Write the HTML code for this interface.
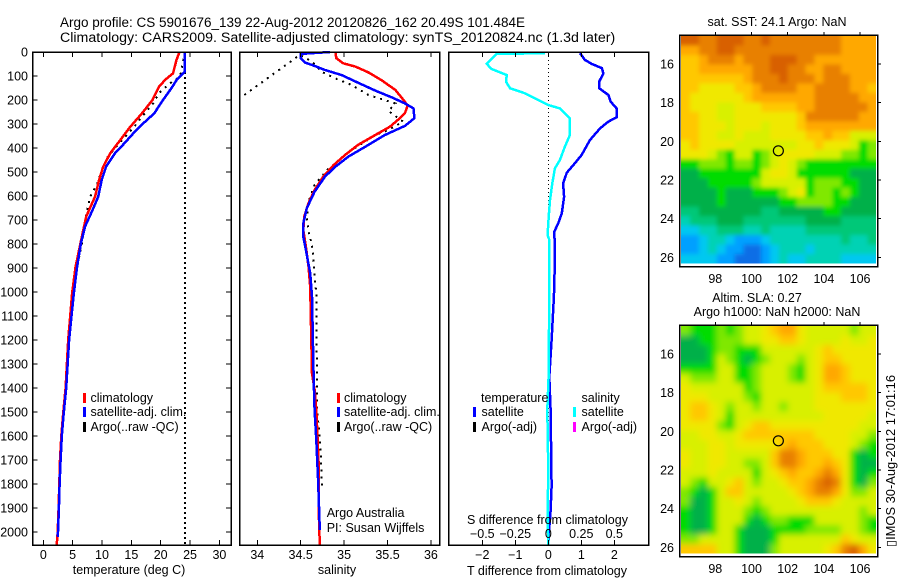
<!DOCTYPE html>
<html lang="en">
<head>
<meta charset="utf-8">
<title>Argo profile</title>
<style>
html,body{margin:0;padding:0;background:#fff;}
#chart{display:block;width:900px;height:580px;font-family:"Liberation Sans",Arial,sans-serif;font-size:12.5px;fill:#000;}
text{font-family:"Liberation Sans","DejaVu Sans",sans-serif;}
</style>
</head>
<body>
<svg id="chart" xmlns="http://www.w3.org/2000/svg" width="900" height="580" viewBox="0 0 900 580">
  <defs>
    <filter id="blurSst" filterUnits="userSpaceOnUse" x="640" y="0" width="260" height="300"><feGaussianBlur stdDeviation="2"/></filter>
    <filter id="blurSla" filterUnits="userSpaceOnUse" x="640" y="290" width="260" height="290"><feGaussianBlur stdDeviation="3.2"/></filter>
    <clipPath id="clipSst"><rect x="681" y="36" width="195" height="227.5"/></clipPath>
    <clipPath id="clipSla"><rect x="681" y="326" width="195" height="227.5"/></clipPath>
  </defs>
  <rect x="0" y="0" width="900" height="580" fill="#fff"/>
  <text x="60" y="27" font-size="14.2" textLength="465" lengthAdjust="spacingAndGlyphs">Argo profile: CS 5901676_139 22-Aug-2012 20120826_162 20.49S 101.484E</text>
  <text x="60" y="42" font-size="14.2">Climatology: CARS2009. Satellite-adjusted climatology: synTS_20120824.nc (1.3d later)</text>
  <g id="layer"></g>
  <text x="129" y="574" text-anchor="middle">temperature (deg C)</text>
  <text x="337" y="574" text-anchor="middle">salinity</text>
  <text x="547" y="575" text-anchor="middle">T difference from climatology</text>
  <text x="547.5" y="524" text-anchor="middle">S difference from climatology</text>
  <text x="326.7" y="517">Argo Australia</text>
  <text x="326.7" y="532">PI: Susan Wijffels</text>

  <g>
    <rect x="83" y="393" width="3" height="10" fill="#f00"/><text x="90.5" y="402">climatology</text>
    <rect x="83" y="407" width="3" height="10" fill="#00f"/><text x="90.5" y="416">satellite-adj. clim.</text>
    <rect x="83" y="422" width="3" height="10" fill="#000"/><text x="90.5" y="431">Argo(..raw -QC)</text>
  </g>
  <g>
    <rect x="337" y="393" width="3" height="10" fill="#f00"/><text x="344" y="402">climatology</text>
    <rect x="337" y="407" width="3" height="10" fill="#00f"/><text x="344" y="416">satellite-adj. clim.</text>
    <rect x="337" y="422" width="3" height="10" fill="#000"/><text x="344" y="431">Argo(..raw -QC)</text>
  </g>
  <g>
    <text x="481" y="402">temperature</text>
    <rect x="473" y="407" width="3" height="10" fill="#00f"/><text x="481.5" y="416">satellite</text>
    <rect x="473" y="422" width="3" height="10" fill="#000"/><text x="481.5" y="431">Argo(-adj)</text>
    <text x="581.5" y="402">salinity</text>
    <rect x="573" y="407" width="3" height="10" fill="#0ff"/><text x="581.5" y="416">satellite</text>
    <rect x="573" y="422" width="3" height="10" fill="#f0f"/><text x="581.5" y="431">Argo(-adj)</text>
  </g>

  <text x="777" y="26" text-anchor="middle">sat. SST: 24.1 Argo: NaN</text>
  <text x="757" y="302" text-anchor="middle">Altim. SLA: 0.27</text>
  <text x="777" y="316" text-anchor="middle">Argo h1000: NaN h2000: NaN</text>
  <text transform="translate(895,547) rotate(-90)" textLength="172" lengthAdjust="spacingAndGlyphs">▯IMOS 30-Aug-2012 17:01:16</text>
</svg>
<script>
// ---------- depth axis ----------
const depthTicks = [0,100,200,300,400,500,600,700,800,900,1000,1100,1200,1300,1400,1500,1600,1700,1800,1900,2000];
// ---------- temperature panel ----------
const tempTicks = [0,5,10,15,20,25,30];
const tempClimDepth = [0,33,89,115,145,200,256,312,367,422,478,533,603,686,755,894,1006,1200,1400,1500,1600,1700,1800,1900,2000,2054];
const tempClim = [23.2,22.7,22.1,20.8,19.7,18.6,16.8,14.8,13.1,11.4,10.2,9.5,8.8,7.3,6.7,5.5,4.9,4.25,3.8,3.4,3.07,2.85,2.73,2.6,2.45,2.28];
const tempSatDepth = [0,82,117,145,200,256,298,340,381,422,478,533,603,658,728,797,894,1006,1200,1400,1500,1600,1700,1800,1900,2000,2020];
const tempSat = [24.1,24.1,22.7,22,20.4,18.9,17,15.3,13.8,12.2,10.7,9.95,9.35,8.4,7.1,6.4,5.75,5.2,4.4,3.9,3.5,3.15,2.95,2.78,2.65,2.5,2.45];
const tempArgoDepth = [0,103,130,172,214,270,317,367,436,492,547,603,672,742,797,894,978,1200,1400,1600,1650];
const tempArgo = [24.1,23.3,21.6,19.7,18.7,16.8,15.3,13.4,11,10,9.2,8,7.3,6.9,6.6,5.8,5.2,4.4,3.9,3.2,3.1];
const satSstDepth = [0,2054];
const satSst = [24.1,24.1];
// ---------- salinity panel ----------
const salTicks = [34,34.5,35,35.5,36];
const salClimDepth = [0,26,47,61,85,117,158,207,225,255,283,311,346,387,429,471,519,575,630,686,742,811,894,978,1339,1408,1492,1575,1742,1936,2054];
const salClim = [34.9,34.91,34.99,35.13,35.28,35.43,35.59,35.7,35.73,35.7,35.62,35.53,35.36,35.16,35.01,34.88,34.76,34.66,34.59,34.54,34.53,34.56,34.59,34.61,34.63,34.66,34.68,34.69,34.71,34.71,34.72];
const salSatDepth = [0,8,26,44,58,75,96,128,161,189,214,235,276,308,346,387,436,478,519,582,651,714,769,825,922,1019,1367,1492,1617,1783,1992];
const salSat = [34.84,34.5,34.5,34.55,34.66,34.78,34.97,35.16,35.36,35.55,35.7,35.8,35.81,35.7,35.47,35.28,35.05,34.9,34.78,34.66,34.57,34.53,34.53,34.56,34.61,34.63,34.65,34.66,34.68,34.7,34.72];
const salArgoDepth = [179,12,40,82,110,138,179,214,246,290,325,346,408,464,485,554,623,692,748,803,858,928,1011,1492,1658,1825];
const salArgo = [33.85,34.49,34.63,34.74,34.9,35.09,35.28,35.59,35.51,35.68,35.51,35.36,35.09,34.9,34.82,34.66,34.59,34.57,34.59,34.63,34.645,34.66,34.68,34.69,34.73,34.745];
// ---------- difference panel ----------
const diffTTicks = [-2,-1,0,1,2];
const diffSTicks = [-0.5,-0.25,0,0.25,0.5];
const diffSLabels = ['−0.5','−0.25','0','0.25','0.5'];
const diffTDepth = [5,33,49,67,89,124,151,179,207,235,272,290,318,367,429,471,503,547,603,672,714,749,811,867,1019,1200,1353,1492,1811,1936,1992,2054];
const diffT = [0.96,1.11,1.31,1.62,1.67,1.54,1.54,1.82,1.89,2.07,2.07,1.82,1.57,1.26,1.01,0.76,0.56,0.45,0.48,0.41,0.3,0.18,0.2,0.2,0.17,0.1,0.03,0.07,0.1,0.06,0.02,0];
const diffSDepth = [5,8,49,71,96,124,151,172,207,221,235,276,346,394,450,485,547,617,686,762,783,1019,1353,1492,1742,1936,2054];
const diffS = [-0.025,-0.39,-0.467,-0.43,-0.315,-0.32,-0.29,-0.177,-0.05,0,0.088,0.164,0.164,0.126,0.088,0.05,0.03,0.013,0.003,-0.005,0.0076,0.0076,0.002,-0.0076,0,-0.005,0];
// ---------- maps ----------
const lonTicks = [98,100,102,104,106];
const latTicks = [16,18,20,22,24,26];
const profileLon = 101.484;
const profileLat = 20.49;
const sstLevels = [
[13,13,12,12,13,13,13,12,12,13,12,12,12,12,12,12,12,12,11,11,11,11],
[11,11,12,12,13,13,12,12,12,12,12,12,12,12,12,12,12,12,11,11,11,11],
[10,10,11,12,12,12,11,12,12,12,13,13,13,12,12,11,11,11,11,11,11,11],
[10,10,11,11,11,11,11,11,12,12,13,13,12,12,11,11,12,12,11,11,11,11],
[10,10,10,10,10,10,10,11,12,12,12,13,12,12,12,11,12,12,12,11,11,11],
[10,10,9,9,9,9,10,10,11,12,12,12,12,11,11,12,12,12,12,11,11,10],
[10,9,9,9,9,9,9,10,11,11,11,11,11,11,11,12,12,12,12,12,11,11],
[10,9,9,9,8,8,9,9,9,10,10,10,10,11,11,12,12,12,12,12,12,11],
[10,10,9,9,8,8,9,9,9,9,9,9,9,10,12,12,12,12,12,12,11,11],
[10,10,9,9,9,8,9,9,9,8,9,9,9,10,11,11,11,11,11,11,11,11],
[10,10,9,9,8,8,9,8,8,8,9,9,9,9,10,10,11,10,10,8,8,8],
[9,10,9,9,9,9,8,8,8,8,8,8,8,9,9,10,9,9,9,8,6,7],
[9,9,9,8,7,6,8,8,6,7,8,9,9,9,9,8,8,8,7,7,6,7],
[6,6,7,7,7,6,7,7,6,7,8,9,8,7,6,6,6,6,6,6,6,6],
[5,5,6,6,6,6,6,6,6,8,9,9,8,6,6,6,6,6,6,5,5,5],
[5,5,5,6,6,6,6,6,7,8,8,8,8,8,6,7,7,7,6,6,5,5],
[5,5,5,5,6,5,5,5,6,6,6,7,8,9,6,7,7,6,7,6,5,5],
[5,5,5,5,6,5,5,5,5,5,5,6,6,7,7,7,7,6,6,5,5,5],
[4,4,5,5,5,5,5,5,5,4,4,5,5,5,5,5,6,6,5,5,5,5],
[3,4,4,4,5,5,5,4,4,4,4,4,4,4,5,5,5,5,4,4,4,4],
[2,2,3,3,4,4,4,3,3,4,3,3,3,3,4,4,4,4,4,4,4,4],
[1,1,2,3,3,2,1,1,1,2,3,3,3,3,3,3,3,3,4,3,3,4],
[1,1,2,3,2,1,1,0,0,1,2,3,3,3,2,3,3,3,3,3,3,3],
[2,2,2,2,1,1,0,0,0,1,2,3,2,2,3,3,3,3,2,2,2,2]
];
const slaLevels = [
[7,6,6,6,7,6,7,8,8,9,10,11,11,9,8,8,8,8,8,7,8,8],
[5,5,6,6,7,7,7,8,8,9,9,10,10,9,8,8,8,8,9,8,8,9],
[5,5,5,6,7,7,6,6,6,8,8,8,8,8,8,9,10,9,9,9,9,9],
[5,5,5,6,8,7,6,5,6,7,8,8,8,7,8,9,10,10,9,9,9,9],
[6,6,6,6,8,8,6,6,7,8,8,8,7,6,8,9,11,11,10,9,9,9],
[8,7,7,7,8,8,6,6,7,8,8,8,7,6,8,9,11,11,10,9,9,9],
[9,8,8,8,8,8,8,6,7,8,8,8,8,8,8,9,10,10,10,10,10,9],
[9,9,9,8,8,8,8,7,6,8,8,8,8,8,8,9,9,9,10,10,10,9],
[9,10,10,9,8,7,8,8,7,8,8,7,8,8,8,9,9,9,9,9,9,9],
[9,10,10,9,8,6,8,8,8,8,8,8,8,8,8,8,9,9,9,9,9,8],
[9,9,9,9,7,6,8,9,10,10,9,9,9,9,9,9,9,9,9,9,8,8],
[8,8,9,9,8,8,9,10,10,10,10,10,10,10,10,9,9,9,9,8,8,7],
[8,8,8,9,9,8,9,9,9,9,9,10,11,10,10,10,9,9,9,8,7,6],
[9,8,8,9,9,8,8,8,8,8,10,12,12,11,10,10,10,9,9,6,5,6],
[9,8,8,9,9,8,8,7,7,8,10,12,12,11,10,10,11,10,9,6,5,5],
[8,8,8,9,8,8,8,8,6,8,9,10,11,10,10,11,12,11,9,6,5,6],
[8,7,6,8,8,9,10,8,7,8,8,9,10,10,11,12,13,12,9,6,5,7],
[7,6,5,6,8,10,10,8,8,8,8,8,9,10,11,12,12,11,9,7,7,8],
[7,5,5,6,8,8,9,8,7,8,8,8,8,9,10,10,10,9,8,8,8,8],
[6,5,5,6,8,8,8,7,6,7,8,8,8,8,8,8,8,8,8,8,7,8],
[6,5,5,6,8,8,8,6,5,6,7,7,6,6,6,8,8,8,8,8,7,6],
[6,5,5,6,8,8,6,5,5,5,6,6,6,6,7,7,7,7,8,8,7,6],
[7,7,8,8,8,8,6,5,5,5,6,8,8,8,8,8,8,8,10,9,8,8],
[10,10,10,10,8,8,6,5,5,5,7,8,8,8,8,8,9,10,12,13,11,9]
];

const palette = ['#0a6ee6','#00a0ff','#00c8f0','#00d2b4','#00c878','#00b048','#00dc00','#80e800','#d8f000','#f0e800','#ffc800','#ffa800','#e88000','#d86000','#c84800'];
const SVGNS = 'http://www.w3.org/2000/svg';
const layer = document.getElementById('layer');

// axis functions
const depthY = d => 52 + d * 0.24;
const tempX = v => 43.3 + v * 5.87;
const salX = v => 257.3 + (v - 34) * 86.8;
const diffTX = v => 548.3 + v * 33;
const diffSX = v => 548.3 + v * 132;
const lonX = v => 715.3 + (v - 98) * 18.1;
const latY = (v, top) => top + 29 + (v - 16) * 19.33;

function mk(tag, attrs, parent) {
  const el = document.createElementNS(SVGNS, tag);
  for (const k in attrs) el.setAttribute(k, attrs[k]);
  (parent || layer).appendChild(el);
  return el;
}
function drawLine(xs, ys, xf, color, width, dash, name) {
  const pts = xs.map((v, i) => xf(v).toFixed(1) + ',' + depthY(ys[i]).toFixed(1)).join(' ');
  const el = mk('polyline', {points: pts, fill: 'none', stroke: color, 'stroke-width': width, 'shape-rendering': 'crispEdges'});
  if (dash) el.setAttribute('stroke-dasharray', dash);
  
  
}
function tick(x1, y1, x2, y2) {
  const el = mk('line', {x1, y1, x2, y2, stroke: '#000', 'stroke-width': 1, 'shape-rendering': 'crispEdges'});
  
  
}
function label(x, y, s, anchor) {
  const el = mk('text', {x, y, 'text-anchor': anchor || 'middle'});
  el.textContent = s;
  
  
}
function frame(x, y, w, h, name) {
  const el = mk('rect', {x, y, width: w, height: h, fill: 'none', stroke: '#000', 'stroke-width': 1.5, 'shape-rendering': 'crispEdges'});
  
  
}
const PT = 52, PB = 545;

// ---- panel 1 ----
drawLine(satSst, satSstDepth, tempX, '#000', 2, '2 3', 'satellite-sst-dotted-line');
drawLine(tempArgo, tempArgoDepth, tempX, '#000', 2, '2 5', 'temperature-argo-line');
drawLine(tempClim, tempClimDepth, tempX, '#f00', 2.5, null, 'temperature-climatology-line');
drawLine(tempSat, tempSatDepth, tempX, '#00f', 2.5, null, 'temperature-satellite-line');
frame(32.5, PT, 198.5, PB - PT, 'temperature-panel-frame');
tempTicks.forEach(v => {
  const x = tempX(v);
  tick(x, PT, x, PT + 5);
  tick(x, PB, x, PB - 5);
  label(x, 559, String(v));
});
depthTicks.forEach(d => {
  const y = depthY(d);
  tick(32.5, y, 37.5, y);
  tick(231, y, 226, y);
  label(28, y + 4.5, String(d), 'end');
});

// ---- panel 2 ----
drawLine(salArgo, salArgoDepth, salX, '#000', 2, '2 5', 'salinity-argo-line');
drawLine(salClim, salClimDepth, salX, '#f00', 2.5, null, 'salinity-climatology-line');
drawLine(salSat, salSatDepth, salX, '#00f', 2.5, null, 'salinity-satellite-line');
frame(239.5, PT, 200, PB - PT, 'salinity-panel-frame');
salTicks.forEach(v => {
  const x = salX(v);
  tick(x, PT, x, PT + 5);
  tick(x, PB, x, PB - 5);
  label(x, 559, String(v));
});

// ---- panel 3 ----
drawLine([0, 0], [0, 2054], diffTX, '#000', 1, '1 3', 'zero-difference-line');
drawLine(diffT, diffTDepth, diffTX, '#00f', 2.5, null, 'temperature-difference-line');
drawLine(diffS, diffSDepth, diffSX, '#0ff', 2.5, null, 'salinity-difference-line');
frame(448.5, PT, 200, PB - PT, 'difference-panel-frame');
diffTTicks.forEach(v => {
  const x = diffTX(v);
  tick(x, PT, x, PT + 5);
  tick(x, PB, x, PB - 5);
  label(x, 559, v < 0 ? '−' + Math.abs(v) : String(v));
});
diffSTicks.forEach((v, i) => {
  label(diffSX(v), 538, diffSLabels[i]);
});

// ---- maps ----
function drawMap(levels, top, name, filterId, clipId) {
  const lonStart = 96.12, latStart = 14.55, step = 0.4905, pad = 14;
  const clip = mk('g', {'clip-path': 'url(#' + clipId + ')'});
  
  
  const g = mk('g', {filter: 'url(#' + filterId + ')'}, clip);
  levels.forEach((row, r) => {
    row.forEach((lev, c) => {
      const lon = lonStart + c * step, lat = latStart + r * step;
      let x = lonX(lon), y = latY(lat, top);
      let w = lonX(lon + step) - x + 0.4, h = latY(lat + step, top) - y + 0.4;
      // outer cells reach past the clip so the smoothing does not fade at the edges
      if (c === 0) { x -= pad; w += pad; }
      if (c === row.length - 1) { w += pad; }
      if (r === 0) { y -= pad; h += pad; }
      if (r === levels.length - 1) { h += pad; }
      const cell = mk('rect', {x: x.toFixed(2), y: y.toFixed(2), width: w.toFixed(2), height: h.toFixed(2), fill: palette[lev]}, g);
      
      
    });
  });
  frame(679.5, top, 198, 231.5, name + '-frame');
  lonTicks.forEach(v => {
    const x = lonX(v);
    tick(x, top, x, top - 3);
    label(x, top + 248, String(v));
  });
  latTicks.forEach(v => {
    const y = latY(v, top);
    tick(877.5, y, 881, y);
    label(674, y + 4.5, String(v), 'end');
  });
  const marker = mk('circle', {cx: lonX(profileLon), cy: latY(profileLat, top), r: 5, fill: 'none', stroke: '#000', 'stroke-width': 1.2});
  
  
}
drawMap(sstLevels, 35, 'sst-map', 'blurSst', 'clipSst');
drawMap(slaLevels, 325, 'sla-map', 'blurSla', 'clipSla');
</script>
</body>
</html>
